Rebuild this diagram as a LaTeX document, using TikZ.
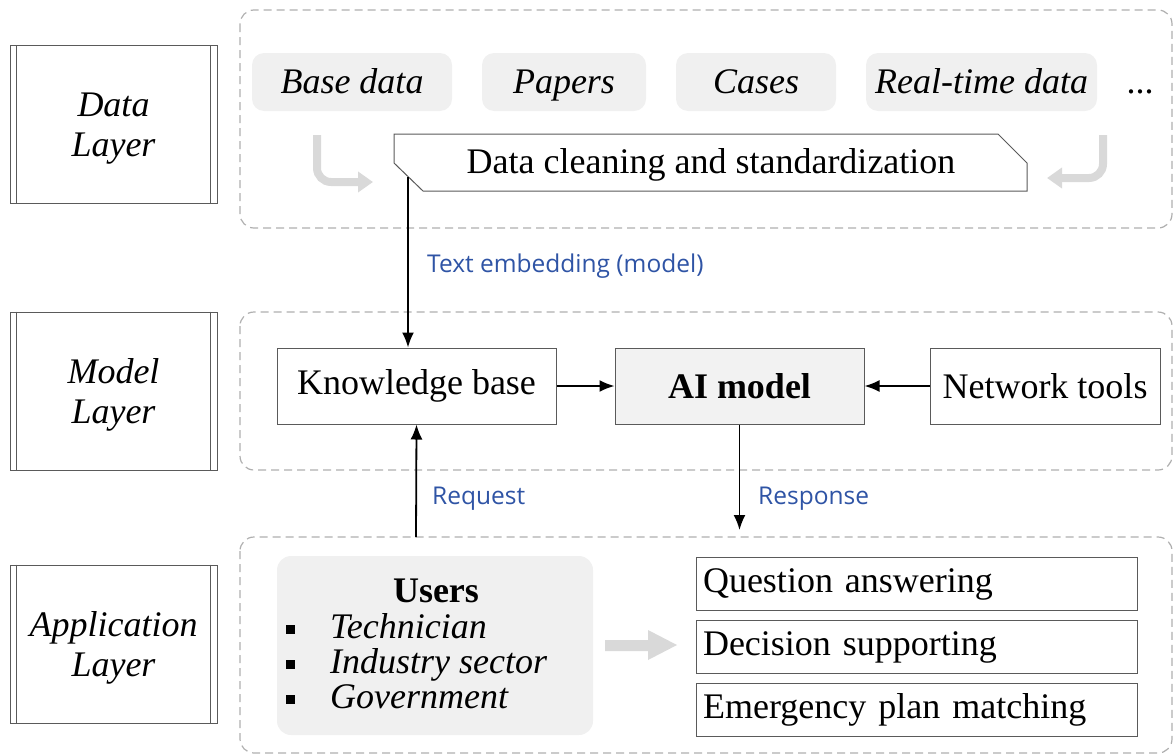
\documentclass[tikz,border=0pt]{standalone}
\usepackage{fontspec}
\setmainfont{Liberation Serif}
\newfontfamily\lblfont{Open Sans}
\usetikzlibrary{arrows.meta}
\definecolor{lblue}{RGB}{47,84,165}
\definecolor{boxgray}{RGB}{240,240,240}
\definecolor{aigray}{RGB}{242,242,242}
\definecolor{dashgray}{RGB}{175,175,175}
\definecolor{arrgray}{RGB}{217,217,217}
\definecolor{edgegray}{RGB}{90,90,90}
\tikzset{
  big/.style={font=\fontsize{36}{40}\selectfont},
  container/.style={draw=dashgray, dash pattern=on 8pt off 5pt, line width=1.2pt, rounded corners=14pt},
  layerbox/.style={draw=edgegray, line width=1pt, minimum width=207pt, minimum height=158pt, align=center, font=\fontsize{36}{40}\selectfont\itshape},
  srcbox/.style={fill=boxgray, rounded corners=12pt, minimum height=58pt, font=\fontsize{36}{40}\selectfont\itshape, inner sep=0pt, text height=28pt, text depth=5pt},
  plainbox/.style={draw=edgegray, line width=1pt, minimum height=76pt, big, inner sep=0pt},
  appbox/.style={draw=edgegray, line width=1pt, minimum height=53pt, text width=427pt, inner xsep=7pt, inner ysep=0pt, align=left, big},
  conn/.style={line width=1.8pt, -{Latex[length=15pt,width=12pt]}},
  lbl/.style={font=\lblfont\fontsize{24.5}{28}\selectfont, text=lblue, anchor=west, inner sep=0pt},
  grayarr/.style={line width=8pt, draw=arrgray, rounded corners=14pt, -{Triangle[length=15pt,width=20pt]}},
  listitem/.style={anchor=west, inner sep=0pt, font=\fontsize{36}{40}\selectfont\itshape, text height=22pt, text depth=6pt},
}
\begin{document}
\begin{tikzpicture}[x=1pt,y=-1pt]
\useasboundingbox (0,0) rectangle (1174,755);

% containers
\draw[container] (240,10) rectangle (1172,228);
\draw[container] (240,312) rectangle (1172,470);
\draw[container] (240,537) rectangle (1172,753);

% layer boxes
\foreach \n/\t/\y in {dl/{Data\\Layer}/124.5, ml/{Model\\Layer}/391, al/{Application\\Layer}/644}{
  \node[layerbox] (\n) at (113.5,\y) {};
  \node[align=center, font=\fontsize{36}{40}\selectfont\itshape, inner sep=0pt] (\n t) at (113.5,\y+4) {\t};
  \draw[edgegray, line width=1pt] ([xshift=7pt]\n.north west) -- ([xshift=7pt]\n.south west);
  \draw[edgegray, line width=1pt] ([xshift=-7pt]\n.north east) -- ([xshift=-7pt]\n.south east);
}

% data sources
\node[srcbox, minimum width=200pt] (base) at (352,82) {Base data};
\node[srcbox, minimum width=164pt] (papers) at (564,82) {Papers};
\node[srcbox, minimum width=160pt] (cases) at (756,82) {Cases};
\node[srcbox, minimum width=231pt] (rt) at (981.5,82) {Real-time data};
\node[big, inner sep=0pt] (dots) at (1140,92) {...};

% data cleaning
\draw[edgegray, line width=1pt, fill=white] (394,134) -- (998,134) -- (1027,163) -- (1027,191) -- (423,191) -- (394,163) -- cycle;
\node[big, inner sep=0pt] (clean) at (711,165) {Data cleaning and standardization};
\coordinate (cleanout) at (408,177);

% gray bent arrows
\draw[grayarr] (317,135) -- (317,182) -- (373,182);
\draw[grayarr] (1103,135) -- (1103,178) -- (1047,178);

% model layer
\node[plainbox, minimum width=279pt] (kb) at (416.5,386) {Knowledge base};
\node[plainbox, minimum width=249pt, fill=aigray, font=\fontsize{36}{40}\selectfont\bfseries] (ai) at (739.5,386) {AI model};
\node[plainbox, minimum width=230pt] (nt) at (1045,386) {Network tools};

\draw[conn] (cleanout) -- (cleanout |- kb.north);
\node[lbl] (te) at (427,266) {Text embedding (model)};
\draw[conn] (kb) -- (ai);
\draw[conn] (nt) -- (ai);

% request / response
\coordinate (req) at (416,537);
\draw[conn] (req) -- (kb.south);
\node[lbl] (reql) at (432,499) {Request};
\coordinate (resp) at (739.5,530);
\draw[conn] (ai.south) -- (resp);
\node[lbl] (respl) at (758,499) {Response};

% users
\fill[boxgray, rounded corners=14pt] (277,556) rectangle (593,735);
\node[big, font=\fontsize{36}{40}\selectfont\bfseries, inner sep=0pt] (users) at (436,591) {Users};
\foreach \n/\t/\y in {u1/Technician/629, u2/Industry sector/664, u3/Government/699}{
  \fill (286,\y-4) rectangle (295,\y+5);
  \node[listitem] (\n) at (330,\y+1) {\t};
}

% fat gray arrow
\fill[arrgray] (605,640) -- (648,640) -- (648,630) -- (677,645) -- (648,660) -- (648,651) -- (605,651) -- cycle;

% application boxes
\node[appbox] (qa) at (916.5,584) {Question answering};
\node[appbox] (ds) at (916.5,647) {Decision supporting};
\node[appbox] (ep) at (916.5,710) {Emergency plan matching};
\end{tikzpicture}
\end{document}
